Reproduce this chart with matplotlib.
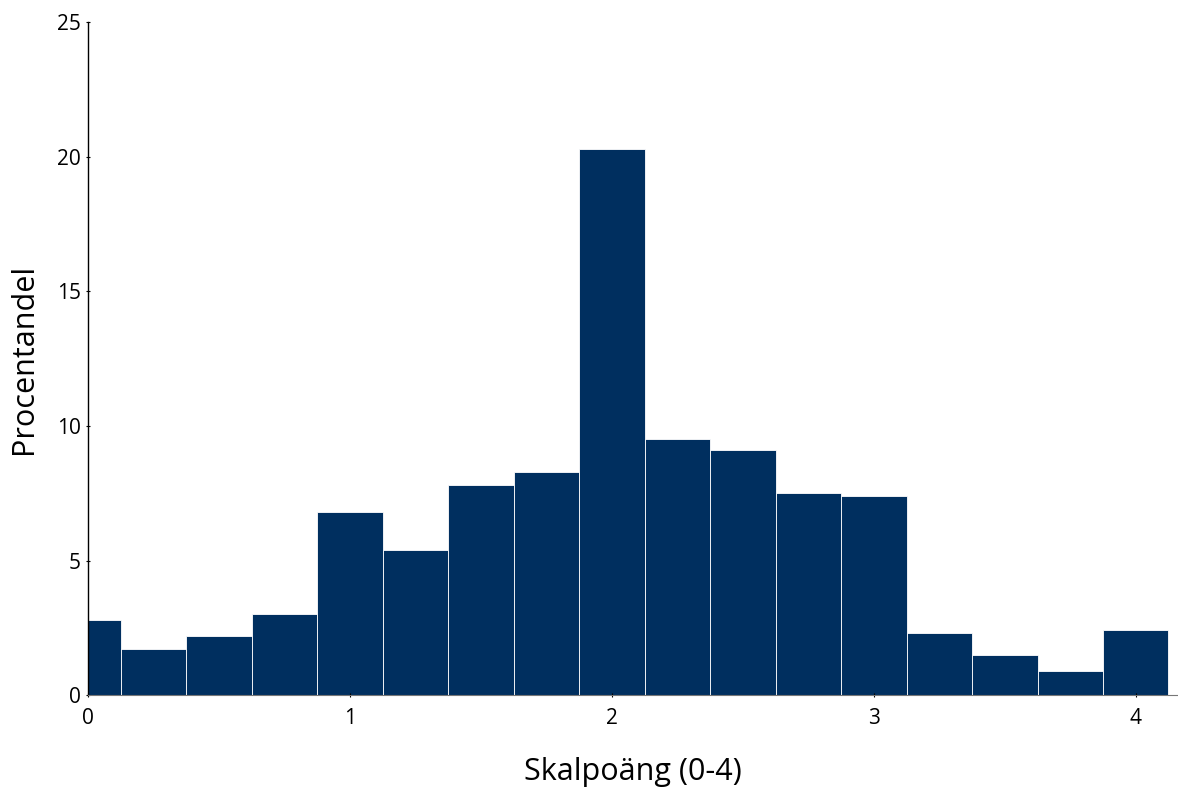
import matplotlib
matplotlib.use("Agg")
import matplotlib.pyplot as plt

# bin centres (scale score 0-4, step 0.25) and share in percent
bin_centers = [0, 0.25, 0.5, 0.75, 1.0, 1.25, 1.5, 1.75, 2.0,
               2.25, 2.5, 2.75, 3.0, 3.25, 3.5, 3.75, 4.0]
percent = [2.8, 1.7, 2.2, 3.0, 6.8, 5.4, 7.8, 8.3, 20.3,
           9.5, 9.1, 7.5, 7.4, 2.3, 1.5, 0.9, 2.4]
x_ticks = [0, 1, 2, 3, 4]
y_ticks = [0, 5, 10, 15, 20, 25]

plt.rcParams['font.family'] = ['Open Sans', 'DejaVu Sans']

fig = plt.figure(figsize=(11.78, 7.89), dpi=100)
ax = fig.add_axes([0.0747, 0.119, 0.925, 0.853])

ax.bar(bin_centers, percent, width=0.25, color='#002F5F',
       edgecolor='white', linewidth=0.6)

ax.set_xlim(0, 4.16)
ax.set_ylim(0, 25)
ax.set_xticks(x_ticks)
ax.set_yticks(y_ticks)
ax.tick_params(labelsize=15, length=3, direction='inout', width=0.8)
ax.tick_params(axis='x', pad=8)

for s in ['top', 'right']:
    ax.spines[s].set_visible(False)
ax.spines['left'].set_linewidth(1)
ax.spines['bottom'].set_color('#777777')

ax.set_ylabel('Procentandel', fontsize=22, labelpad=13)
ax.set_xlabel('Skalpoäng (0-4)', fontsize=22, labelpad=20)

fig.savefig('out.png', dpi=100)
